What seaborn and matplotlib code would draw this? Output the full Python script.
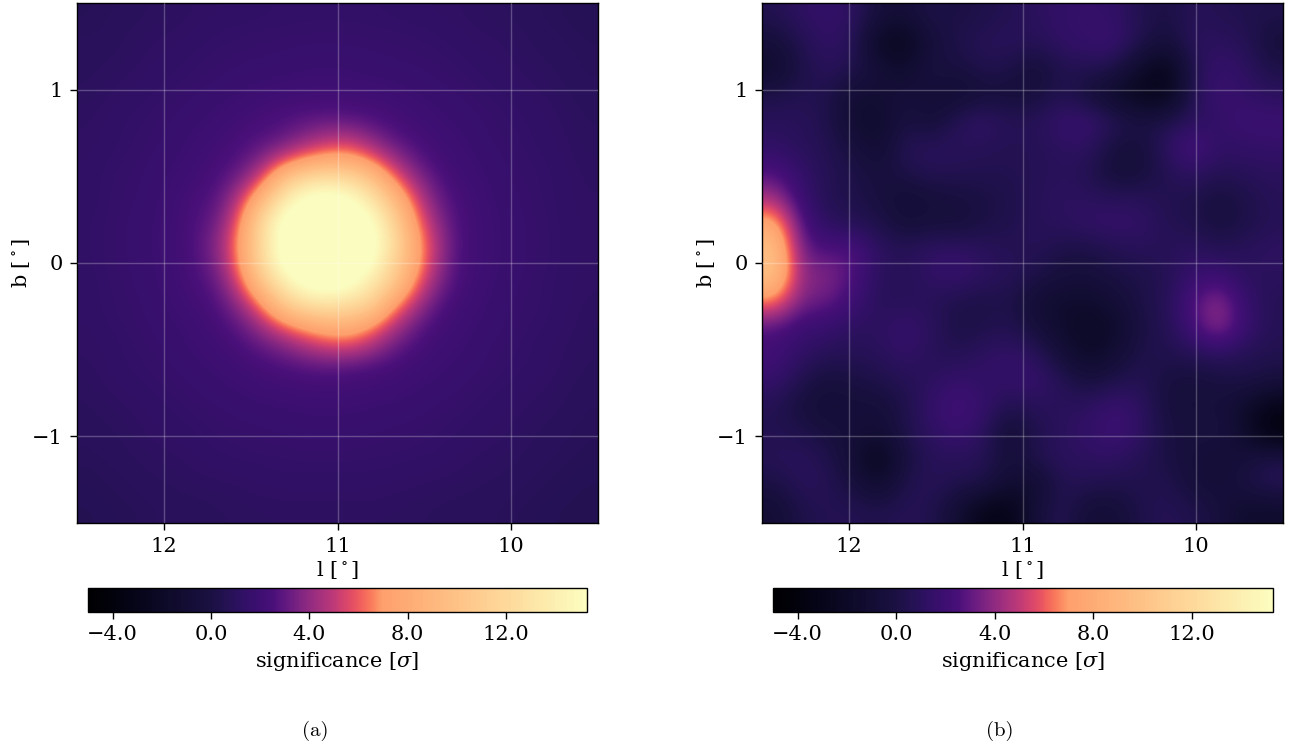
import numpy as np
import matplotlib
matplotlib.use('Agg')
import matplotlib.pyplot as plt
from matplotlib.colors import ListedColormap
from matplotlib.ticker import FuncFormatter
import seaborn as sns

# Axis ranges and tick labels
lon_ticks = [12, 11, 10]
lat_ticks = [-1, 0, 1]
cbar_ticks = [-4.0, 0.0, 4.0, 8.0, 12.0]
sig_min = -5.0
sig_max = 15.3

# Colour scale: significance -> position in magma
scale_sig = [-5.0, 0.0, 2.5, 4.0, 5.0, 6.0, 7.0, 15.3]
scale_pos = [0.0, 0.12, 0.23, 0.41, 0.52, 0.65, 0.80, 1.0]

# Panel (a): significance, rows from b=+1.5 to b=-1.5,
# columns from l=12.5 to l=9.5
sig_a = [
    [.8, .9, .95, 1.05, 1.1, 1.2, 1.25, 1.3, 1.35, 1.4, 1.4, 1.4, 1.4, 1.4, 1.35, 1.3, 1.25, 1.2, 1.1, 1.05, .95, .9, .8, .7],
    [.9, .95, 1.05, 1.15, 1.2, 1.3, 1.4, 1.45, 1.5, 1.5, 1.55, 1.55, 1.55, 1.5, 1.5, 1.45, 1.4, 1.3, 1.2, 1.15, 1.05, .95, .9, .8],
    [.95, 1, 1.1, 1.25, 1.3, 1.4, 1.5, 1.55, 1.6, 1.65, 1.7, 1.7, 1.7, 1.65, 1.6, 1.55, 1.5, 1.4, 1.3, 1.25, 1.1, 1, .95, .85],
    [1, 1.1, 1.2, 1.3, 1.4, 1.5, 1.6, 1.7, 1.75, 1.8, 1.85, 1.9, 1.85, 1.8, 1.75, 1.7, 1.6, 1.5, 1.4, 1.3, 1.2, 1.1, 1, .9],
    [1.05, 1.2, 1.3, 1.4, 1.5, 1.65, 1.75, 1.85, 2, 2.1, 2.2, 2.2, 2.2, 2.1, 2, 1.85, 1.75, 1.65, 1.5, 1.4, 1.3, 1.2, 1.05, .95],
    [1.15, 1.3, 1.4, 1.5, 1.65, 1.75, 1.9, 2.1, 2.4, 2.6, 2.8, 2.9, 2.8, 2.6, 2.4, 2.1, 1.9, 1.75, 1.65, 1.5, 1.4, 1.3, 1.15, 1],
    [1.2, 1.3, 1.45, 1.55, 1.7, 1.9, 2.1, 2.5, 2.7, 3, 3.8, 4.5, 4.7, 3.8, 2.9, 2.5, 2.1, 1.9, 1.7, 1.55, 1.45, 1.3, 1.2, 1.05],
    [1.25, 1.4, 1.5, 1.65, 1.8, 2, 2.4, 2.7, 3.6, 5.3, 6.6, 7.5, 7.6, 6.3, 4.4, 3.1, 2.4, 2, 1.8, 1.65, 1.5, 1.4, 1.25, 1.1],
    [1.3, 1.45, 1.55, 1.7, 1.9, 2.2, 2.6, 3.5, 5.7, 10, 12.4, 13.1, 12.4, 10.6, 6.9, 4.3, 2.9, 2.2, 1.9, 1.7, 1.55, 1.45, 1.3, 1.15],
    [1.3, 1.45, 1.6, 1.75, 2, 2.5, 2.9, 5, 9.1, 13.6, 16, 16.5, 16, 13.6, 10.1, 5.9, 3.4, 2.5, 2, 1.75, 1.6, 1.45, 1.3, 1.2],
    [1.35, 1.5, 1.65, 1.8, 2.1, 2.6, 3.3, 6.2, 12, 16, 16.9, 17.7, 16.9, 16, 12, 7.2, 4.1, 2.6, 2.1, 1.8, 1.65, 1.5, 1.35, 1.2],
    [1.35, 1.5, 1.65, 1.8, 2.1, 2.7, 3.8, 7, 12.1, 16.3, 17.6, 19, 17.6, 16.3, 13.1, 8, 4.8, 2.7, 2.1, 1.8, 1.65, 1.5, 1.35, 1.2],
    [1.35, 1.5, 1.65, 1.8, 2.1, 2.6, 3.6, 6.7, 12, 16, 16.9, 17.7, 16.9, 16, 12, 8, 4.6, 2.6, 2.1, 1.8, 1.65, 1.5, 1.35, 1.2],
    [1.3, 1.45, 1.6, 1.75, 2, 2.5, 3.1, 5.5, 9.9, 13.6, 16, 16.5, 16, 13.6, 10.9, 6.7, 3.9, 2.5, 2, 1.75, 1.6, 1.45, 1.3, 1.2],
    [1.3, 1.45, 1.55, 1.7, 1.9, 2.2, 2.7, 4, 6.6, 10.4, 12.4, 13.1, 12.4, 11.4, 7.4, 4.9, 3, 2.2, 1.9, 1.7, 1.55, 1.45, 1.3, 1.15],
    [1.25, 1.4, 1.5, 1.65, 1.8, 2, 2.4, 3, 4.3, 6.1, 7.4, 8.3, 8.4, 7.1, 5, 3.3, 2.4, 2, 1.8, 1.65, 1.5, 1.4, 1.25, 1.1],
    [1.2, 1.3, 1.45, 1.55, 1.7, 1.9, 2.1, 2.5, 3, 3.6, 4.5, 5.3, 5.5, 4.6, 3.3, 2.6, 2.1, 1.9, 1.7, 1.55, 1.45, 1.3, 1.2, 1.05],
    [1.15, 1.3, 1.4, 1.5, 1.65, 1.75, 1.9, 2.1, 2.4, 2.6, 2.8, 2.9, 2.8, 2.6, 2.4, 2.1, 1.9, 1.75, 1.65, 1.5, 1.4, 1.3, 1.15, 1],
    [1.05, 1.2, 1.3, 1.4, 1.5, 1.65, 1.75, 1.85, 2, 2.1, 2.2, 2.2, 2.2, 2.1, 2, 1.85, 1.75, 1.65, 1.5, 1.4, 1.3, 1.2, 1.05, .95],
    [1, 1.1, 1.2, 1.3, 1.4, 1.5, 1.6, 1.7, 1.75, 1.8, 1.85, 1.9, 1.85, 1.8, 1.75, 1.7, 1.6, 1.5, 1.4, 1.3, 1.2, 1.1, 1, .9],
    [.95, 1, 1.1, 1.25, 1.3, 1.4, 1.5, 1.55, 1.6, 1.65, 1.7, 1.7, 1.7, 1.65, 1.6, 1.55, 1.5, 1.4, 1.3, 1.25, 1.1, 1, .95, .85],
    [.9, .95, 1.05, 1.15, 1.2, 1.3, 1.4, 1.45, 1.5, 1.5, 1.55, 1.55, 1.55, 1.5, 1.5, 1.45, 1.4, 1.3, 1.2, 1.15, 1.05, .95, .9, .8],
    [.8, .9, .95, 1.05, 1.1, 1.2, 1.25, 1.3, 1.35, 1.4, 1.4, 1.4, 1.4, 1.4, 1.35, 1.3, 1.25, 1.2, 1.1, 1.05, .95, .9, .8, .7],
    [.7, .8, .9, .95, 1, 1.05, 1.1, 1.15, 1.2, 1.25, 1.25, 1.25, 1.25, 1.25, 1.2, 1.15, 1.1, 1.05, 1, .95, .9, .8, .7, .65],
    [.65, .7, .8, .9, .95, .95, 1, 1.05, 1.1, 1.1, 1.1, 1.1, 1.1, 1.1, 1.1, 1.05, 1, .95, .95, .9, .8, .7, .65, .6],
]

# Panel (b): same idea, coarser grid
sig_b = [
    [0.5, 1.2, 1.4, 1.2, -0.5, -0.8, 0.3, 0.0, 0.3, 0.6, 1.0, 1.4, 1.5, 1.4, 0.5, 0.0, 0.8, 0.6, 0.4, 0.3],
    [-0.6, 0.6, 1.3, 0.9, -2.2, -2.6, -0.5, 0.3, 0.8, 0.9, 0.8, 1.3, 1.6, 1.8, 0.5, -0.5, 1.0, 1.0, 0.8, -0.5],
    [-1.5, 0.2, 1.0, 0.5, -0.8, -1.5, 0.0, -0.2, 0.5, 0.3, -0.7, 0.5, 0.6, 0.4, -1.5, -3.0, 0.5, 1.6, 1.2, 0.2],
    [0.2, 0.5, 0.4, -1.0, -0.9, -0.5, -0.8, -1.2, -0.5, -0.6, -0.3, 0.5, -0.5, -1.8, -2.8, -3.0, 0.8, 1.8, 1.4, 1.0],
    [0.9, 0.9, 0.4, -1.2, -1.6, 0.0, -0.8, 0.8, 1.4, 0.7, 0.8, 1.6, 1.8, 0.8, 0.0, 0.3, 0.9, 1.4, 1.9, 1.9],
    [1.2, 0.9, 0.6, -0.3, -1.2, 0.8, 0.9, 0.9, 0.8, 0.6, 0.7, 1.1, 1.2, -0.2, -0.5, 1.2, 2.5, 1.3, 1.4, 1.5],
    [2.6, 1.4, 0.7, 0.2, -0.4, 0.3, 0.7, 0.6, 0.5, 0.5, 0.7, 0.9, 0.6, -0.7, -0.5, 0.6, 1.3, 0.7, 0.9, 1.0],
    [4.4, 1.8, 0.6, 0.3, -0.2, -1.0, -0.5, -0.3, 0.0, 0.3, 0.8, 1.1, 1.0, 0.9, 0.9, 0.5, 0.3, -0.3, 0.2, 0.8],
    [8.0, 2.6, 1.0, 0.7, 0.3, -0.6, -0.3, -0.5, 0.1, 0.4, 0.8, 1.0, 1.4, 1.5, 1.4, 0.6, 0.4, -0.3, 0.2, 0.7],
    [10.0, 3.2, 2.6, 2.8, 1.1, 0.8, 1.3, 1.4, 1.0, 0.6, 0.8, 0.2, 0.1, 0.6, 0.8, 0.8, 1.1, 0.7, 0.9, 1.2],
    [10.0, 3.8, 3.8, 2.6, 0.9, 0.7, 1.3, 1.6, 1.1, 0.8, 0.2, -0.4, -0.5, 0.0, 0.2, 0.6, 1.6, 2.0, 1.0, 1.0],
    [6.5, 3.4, 3.2, 2.0, 0.8, 0.9, 0.8, 0.3, 0.1, 0.3, -1.0, -1.4, -1.5, -0.9, 0.2, 0.7, 2.6, 4.2, 1.6, 0.7],
    [2.6, 1.8, 1.6, 1.0, 1.1, 1.6, 1.1, 0.0, 0.3, 0.6, -0.4, -1.5, -2.0, -1.7, 0.0, 0.6, 2.2, 4.2, 1.8, 0.7],
    [2.2, 1.3, 0.8, 0.7, 0.9, 1.4, 0.8, 0.6, 1.2, 1.4, 1.0, -0.6, -1.9, -1.0, 0.3, 0.4, 0.7, 1.0, 0.6, 0.5],
    [1.6, 0.5, -0.4, 0.0, 0.3, 0.7, 1.0, 1.6, 1.2, 1.5, 1.6, 0.7, -0.3, 0.3, 0.7, -0.2, -0.4, -0.1, 0.3, -0.2],
    [0.6, -0.4, -0.9, -0.6, -0.6, 0.3, 1.5, 2.3, 1.6, 0.5, 0.9, 0.9, 1.1, 1.8, 1.2, -0.3, -0.6, -0.4, -1.5, -3.0],
    [0.5, 0.4, -0.3, -0.5, -1.0, 0.4, 1.2, 1.8, 1.1, -1.0, 0.4, 1.0, 1.4, 2.0, 1.3, 0.0, -0.4, 0.0, -1.5, -4.0],
    [0.8, 0.9, 0.5, -1.0, -2.8, -0.2, 0.8, 0.9, 0.7, -0.5, 0.5, 1.0, 1.1, 1.2, 0.7, 0.0, -0.5, -1.0, -0.5, 0.3],
    [0.0, 0.9, 0.7, -0.2, -1.5, 0.4, 0.8, 0.4, 0.4, -1.2, -1.3, 0.6, 0.6, 0.4, 0.4, 0.5, -0.5, -0.8, 0.0, 0.8],
    [-1.0, 0.3, 0.6, 0.6, 0.4, 0.7, 0.5, -1.0, -3.0, -3.2, -0.5, 0.7, -0.8, -0.8, 0.3, 0.7, 0.4, -0.3, -1.5, -1.5],
]

sns.set_theme(style='ticks')
plt.rcParams['font.family'] = ['DejaVu Serif']
plt.rcParams['mathtext.fontset'] = 'dejavuserif'
plt.rcParams['axes.edgecolor'] = 'black'
plt.rcParams['text.color'] = 'black'
plt.rcParams['axes.labelcolor'] = 'black'
plt.rcParams['xtick.color'] = 'black'
plt.rcParams['ytick.color'] = 'black'

W, H = 1291, 747
fs = 15

# magma, stretched the way the colorbar shows it
magma = sns.color_palette('magma', as_cmap=True)
cmap = ListedColormap(magma(np.interp(np.linspace(sig_min, sig_max, 512), scale_sig, scale_pos)))


def box(left, top, right, bottom):
    return [left / W, 1 - bottom / H, (right - left) / W, (bottom - top) / H]


fig = plt.figure(figsize=(W / 100, H / 100), dpi=100)
cbar_fmt = FuncFormatter(lambda v, pos: f'{v:.1f}'.replace('-', '\u2212'))


def panel(grid, left, right, cbar_left, cbar_right, caption, caption_x):
    grid = np.array(grid, dtype=float)
    rows, cols = grid.shape
    ax = fig.add_axes(box(left, 3, right, 523))
    cax = fig.add_axes(box(cbar_left, 588, cbar_right, 612))
    sns.heatmap(grid, ax=ax, cbar_ax=cax, cmap=cmap, vmin=sig_min, vmax=sig_max,
                xticklabels=False, yticklabels=False,
                cbar_kws={'orientation': 'horizontal', 'ticks': cbar_ticks, 'format': cbar_fmt})
    # smooth version of the same cells on top of the heatmap
    ax.imshow(grid, extent=(0, cols, rows, 0), cmap=cmap, vmin=sig_min, vmax=sig_max,
              interpolation='bicubic', aspect='auto', zorder=2)
    ax.set_xlim(0, cols)
    ax.set_ylim(rows, 0)

    # degrees -> heatmap cells
    xt = [(12.5 - l) / 3 * cols for l in lon_ticks]
    yt = [(1.5 - b) / 3 * rows for b in lat_ticks]
    ax.set_xticks(xt)
    ax.set_xticklabels([str(l) for l in lon_ticks], fontsize=fs, rotation=0)
    ax.set_yticks(yt)
    ax.set_yticklabels([str(b).replace('-', '\u2212') for b in lat_ticks], fontsize=fs, rotation=0)
    ax.tick_params(length=5, width=1, bottom=True, left=True, pad=5)
    ax.grid(True, color='white', alpha=0.25, linewidth=1, zorder=3)
    ax.set_axisbelow(False)
    ax.set_xlabel(r'l [$^\circ$]', fontsize=fs, labelpad=2)
    ax.set_ylabel(r'b [$^\circ$]', fontsize=fs, labelpad=0)
    for s in ax.spines.values():
        s.set_visible(True)
        s.set_linewidth(1)
        s.set_color('black')

    cbar = ax.collections[0].colorbar
    cbar.outline.set_linewidth(1)
    cbar.outline.set_edgecolor('black')
    cbar.ax.tick_params(labelsize=fs, length=5, width=1, pad=4)
    cbar.set_label(r'significance [$\sigma$]', fontsize=fs, labelpad=5)

    fig.text(caption_x / W, 1 - 731 / H, caption, family='cmr10', fontsize=15,
             ha='center', va='center')


panel(sig_a, 77, 598, 88, 587, '(a)', 315)
panel(sig_b, 762, 1283, 773, 1273, '(b)', 1000)

fig.savefig('out.png', dpi=100)
